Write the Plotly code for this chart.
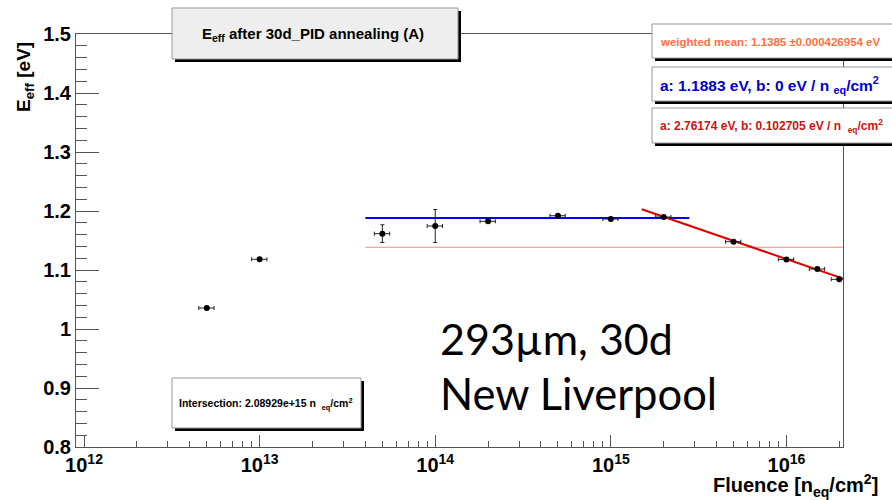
import math
import plotly.graph_objects as go

# ---------------- data ----------------
fluence = [5e12, 1e13, 5e13, 1e14, 2e14, 5e14, 1e15, 2e15, 5e15, 1e16, 1.5e16, 2e16]
e_eff = [1.0356, 1.1181, 1.1616, 1.1746, 1.1825, 1.192, 1.1864, 1.1898, 1.148, 1.118, 1.1017, 1.0842]
e_err = [0.003, 0.002, 0.015, 0.028, 0.002, 0.002, 0.001, 0.002, 0.002, 0.002, 0.002, 0.002]
fluence_err_pct = 10

weighted_mean = 1.1385
mean_range = [4e13, 2.1e16]
blue_a, blue_b = 1.1883, 0.0
blue_range = [4e13, 2.8e15]
red_a, red_b = 2.76174, 0.102705
red_range = [1.5e15, 2.1e16]

x_tickvals = [1e12, 1e13, 1e14, 1e15, 1e16]
x_ticktext = ["10<sup>12</sup>", "10<sup>13</sup>", "10<sup>14</sup>", "10<sup>15</sup>", "10<sup>16</sup>"]
x_range = [9e11, 2.1e16]
y_range = [0.8, 1.5]

# ---------------- geometry helpers (pixel -> paper) ----------------
W, H = 892, 500
L, R, T, B = 76, 843, 34, 447
def px(x):
    return (x - L) / (R - L)
def py(y):
    return (B - y) / (B - T)

def fit(a, b, xs):
    return [a - b * math.log10(x) for x in xs]

fig = go.Figure()

fig.add_trace(go.Scatter(x=mean_range, y=[weighted_mean, weighted_mean], mode="lines",
                         line=dict(color="#ff8a6a", width=1), hoverinfo="skip"))
fig.add_trace(go.Scatter(x=blue_range, y=fit(blue_a, blue_b, blue_range), mode="lines",
                         line=dict(color="#0000ee", width=2)))
fig.add_trace(go.Scatter(x=red_range, y=fit(red_a, red_b, red_range), mode="lines",
                         line=dict(color="#dd0000", width=2)))
fig.add_trace(go.Scatter(
    x=fluence, y=e_eff, mode="markers",
    marker=dict(color="black", size=6),
    error_y=dict(type="data", array=e_err, color="#222", thickness=1, width=2),
    error_x=dict(type="percent", value=fluence_err_pct, color="#222", thickness=1, width=2),
))

axcol = "#555"
fig.update_xaxes(type="log", range=[math.log10(x_range[0]), math.log10(x_range[1])],
                 tickmode="array", tickvals=x_tickvals, ticktext=x_ticktext,
                 ticks="inside", ticklen=12, tickcolor=axcol, tickwidth=1,
                 showline=True, linecolor=axcol, linewidth=1, mirror=True,
                 showgrid=False, zeroline=False,
                 minor=dict(ticks="inside", ticklen=6, tickcolor=axcol, dtick="D1", showgrid=False),
                 tickfont=dict(family="Liberation Sans", size=20, color="black", weight="bold"))
fig.update_yaxes(range=y_range, dtick=0.1, tick0=0.8,
                 ticks="inside", ticklen=23, tickcolor=axcol, tickwidth=1,
                 showline=True, linecolor=axcol, linewidth=1, mirror=True,
                 showgrid=False, zeroline=False,
                 minor=dict(ticks="inside", ticklen=11, tickcolor=axcol, dtick=0.02, showgrid=False),
                 tickfont=dict(family="Liberation Sans", size=20, color="black", weight="bold"))

shapes = []
def pave(x0, y0, x1, y1, fill, shadow=3, line="#999"):
    shapes.append(dict(type="rect", xref="paper", yref="paper",
                       x0=px(x0 + shadow), x1=px(x1 + shadow), y0=py(y1 + shadow), y1=py(y0 + shadow),
                       fillcolor="black", line=dict(width=0), layer="above"))
    shapes.append(dict(type="rect", xref="paper", yref="paper",
                       x0=px(x0), x1=px(x1), y0=py(y1), y1=py(y0),
                       fillcolor=fill, line=dict(color=line, width=1), layer="above"))

pave(172, 8, 458, 59, "#eeeeee")
pave(652, 24, 895, 58, "white")
pave(652, 67, 895, 101, "white")
pave(652, 108, 895, 143, "white")
pave(172, 378, 361, 428, "white")

ann = []
def text(x, y, s, size, color="black", anchor="left", family="Liberation Sans", angle=0):
    ann.append(dict(x=px(x), y=py(y), xref="paper", yref="paper", text=s, showarrow=False,
                    xanchor=anchor, yanchor="middle", textangle=angle,
                    font=dict(family=family, size=size, color=color)))

text(313, 34, "<b>E<sub>eff</sub> after 30d_PID annealing (A)</b>", 15, anchor="center")
text(658, 42, "<b>weighted mean: 1.1385 ±0.000426954 eV</b>", 11.5, color="#ff7045")
text(658, 85, "<b>a: 1.1883 eV, b: 0 eV / n <sub>eq</sub>/cm<sup>2</sup></b>", 15.5, color="#0000cc")
text(658, 126, "<b>a: 2.76174 eV, b: 0.102705 eV / n  <sub>eq</sub>/cm<sup>2</sup></b>", 12, color="#cc1111")
text(177, 404, "<b>Intersection: 2.08929e+15 n  <sub>eq</sub>/cm<sup>2</sup></b>", 10.5)
text(438, 338, "293µm, 30d", 43, family="Lato")
text(438, 393, "New Liverpool", 43.5, family="Lato")
text(880, 485, "<b>Fluence [n<sub>eq</sub>/cm<sup>2</sup>]</b>", 20, anchor="right")
ann.append(dict(x=px(25), y=py(77), xref="paper", yref="paper",
                text="<b>E<sub>eff</sub> [eV]</b>", showarrow=False, textangle=-90,
                xanchor="center", yanchor="middle",
                font=dict(family="Liberation Sans", size=19, color="black")))

fig.update_layout(width=W, height=H, autosize=False,
                  margin=dict(l=L, r=W - R, t=T, b=H - B, pad=0),
                  paper_bgcolor="white", plot_bgcolor="white",
                  showlegend=False, shapes=shapes, annotations=ann)

fig.write_html("out.html")
